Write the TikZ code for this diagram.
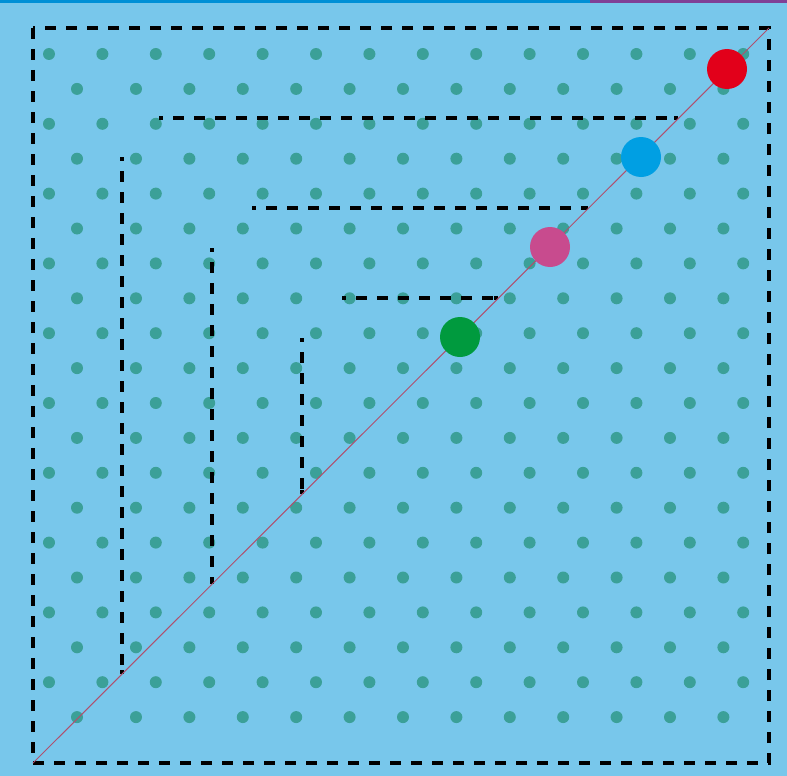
\documentclass[tikz,border=0pt]{standalone}
\usepackage{xcolor}
\definecolor{bgc}{RGB}{120,199,235}
\definecolor{dotc}{RGB}{59,160,152}
\definecolor{diagc}{RGB}{176,80,110}
\definecolor{ballred}{RGB}{226,0,26}
\definecolor{ballblue}{RGB}{0,159,227}
\definecolor{ballpink}{RGB}{200,75,142}
\definecolor{ballgreen}{RGB}{0,154,62}
\definecolor{topblue}{RGB}{0,144,214}
\definecolor{toppurple}{RGB}{128,64,150}
\begin{document}
\begin{tikzpicture}[x=1pt,y=-1pt,
  gridl/.style={line width=4pt, dash pattern=on 11pt off 10pt},
  innerl/.style={gridl, dash phase=7pt},
  endmark/.style={line width=4pt},
  diagl/.style={diagc, line width=1pt},
  ball/.style={circle, minimum size=40pt, inner sep=0pt}]
\useasboundingbox (0,0) rectangle (787,776);
\fill[bgc] (0,0) rectangle (787,776);
\fill[topblue] (0,0) rectangle (590,3);
\fill[toppurple] (590,0) rectangle (787,3);
% dot grid
\foreach \i in {0,2,...,18} {
  \foreach \k in {0,...,13} \fill[dotc] ({49+53.4*\k},{54+34.9*\i}) circle (6pt);
}
\foreach \i in {1,3,...,19} {
  \fill[dotc] (77,{54+34.9*\i}) circle (6pt);
  \foreach \k in {0,...,11} \fill[dotc] ({136+53.4*\k},{54+34.9*\i}) circle (6pt);
}
% corners
\coordinate (BL) at (33,763);
\coordinate (TR) at (769,28);
\coordinate (TL) at (33,28);
\coordinate (BR) at (769,763);
\draw[gridl] (TL) rectangle (BR);
% inner L shapes
\coordinate (h1s) at (159,118); \coordinate (h1e) at (678,118);
\coordinate (v1s) at (122,157); \coordinate (v1e) at (122,674);
\coordinate (h2s) at (252,208); \coordinate (h2e) at (588,208);
\coordinate (v2s) at (212,248); \coordinate (v2e) at (212,584);
\coordinate (h3s) at (342,298); \coordinate (h3e) at (498,298);
\coordinate (v3s) at (302,338); \coordinate (v3e) at (302,494);
\draw[innerl] (h1s) -- (h1e);
\draw[innerl] (v1s) -- (v1e);
\draw[innerl] (h2s) -- (h2e);
\draw[innerl] (v2s) -- (v2e);
\draw[innerl] (h3s) -- (h3e);
\draw[innerl] (v3s) -- (v3e);
\draw[endmark] (h1e) -- ++(-4,0);
\draw[endmark] (h2e) -- ++(-4,0);
\draw[endmark] (h3e) -- ++(-4,0);
\draw[endmark] (v1e) -- ++(0,-4);
\draw[endmark] (v2e) -- ++(0,-4);
\draw[endmark] (v3e) -- ++(0,-4);
% diagonal
\draw[diagl] (BL) -- (TR);
% balls
\node[ball, fill=ballred] (r) at (727,69) {};
\node[ball, fill=ballblue] (b) at (641,157) {};
\node[ball, fill=ballpink] (p) at (550,247) {};
\node[ball, fill=ballgreen] (g) at (460,337) {};
\end{tikzpicture}
\end{document}
